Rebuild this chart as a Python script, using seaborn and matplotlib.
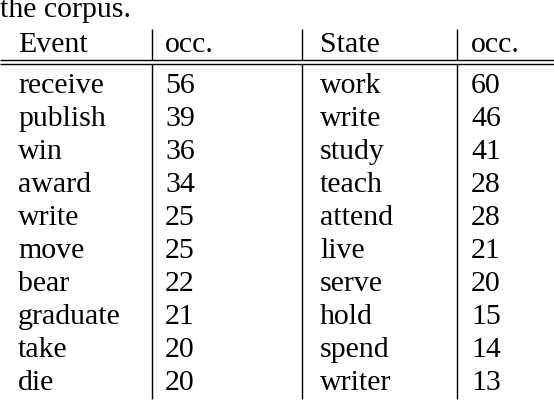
import matplotlib
matplotlib.use("Agg")
import matplotlib.pyplot as plt
import seaborn as sns

events = ["receive", "publish", "win", "award", "write", "move", "bear", "graduate", "take", "die"]
event_occ = [56, 39, 36, 34, 25, 25, 22, 21, 20, 20]
states = ["work", "write", "study", "teach", "attend", "live", "serve", "hold", "spend", "writer"]
state_occ = [60, 46, 41, 28, 28, 21, 20, 15, 14, 13]
headers = ["Event", "occ.", "State", "occ."]

sns.set_theme(style="white")
plt.rcParams['font.family'] = ['Liberation Serif', 'DejaVu Serif']

fig = plt.figure(figsize=(5.54, 4.02), dpi=100)
ax = fig.add_axes([0, 0, 1, 1])
ax.set_xlim(0, 554)
ax.set_ylim(402, 0)
ax.axis("off")

fs = 21.5
ax.text(0, 17, "the corpus.", fontsize=fs, va="baseline", ha="left", color="black")

col_x = [18, 165, 320, 471]
for x, h in zip(col_x, headers):
    ax.text(x, 52, h, fontsize=fs, va="baseline", ha="left", color="black")

ax.hlines([61, 65], 0, 554, color="black", lw=1)
ax.vlines([152, 302, 457], 30, 61, color="black", lw=1)
ax.vlines([152, 302, 457], 65, 400, color="black", lw=1)

for i in range(len(events)):
    y = 93 + i * 33
    row = [events[i], str(event_occ[i]), states[i], str(state_occ[i])]
    for x, t in zip(col_x, row):
        ax.text(x, y, t, fontsize=fs, va="baseline", ha="left", color="black")

fig.savefig("out.png", dpi=100)
